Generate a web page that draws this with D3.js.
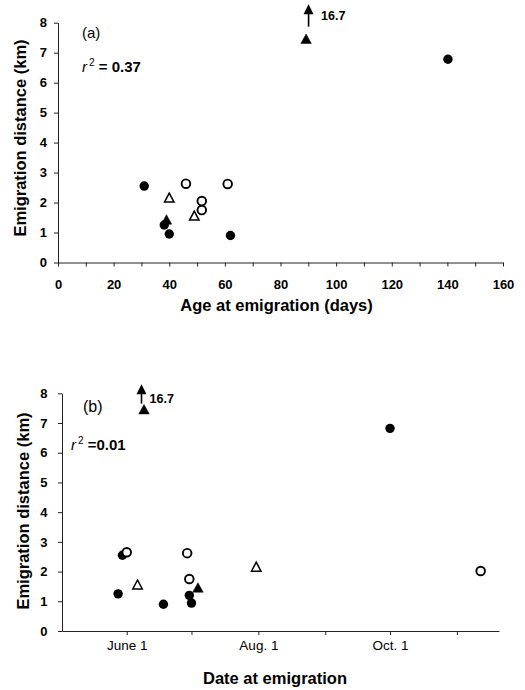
<!DOCTYPE html>
<html>
<head>
<meta charset="utf-8">
<script src="https://cdn.jsdelivr.net/npm/d3@7"></script>
<style>
  html, body { margin: 0; padding: 0; background: #fff; }
  svg { display: block; }
  text { font-family: "Liberation Sans", Arial, sans-serif; fill: #000; }
</style>
</head>
<body>
<svg id="chart" width="525" height="690"></svg>
<script>
// ---------- data ----------
// Panel (a): age at emigration (days) vs emigration distance (km)
const ageDays  = [31, 46, 61, 40, 51.7, 51.7, 49, 39, 38.2, 40, 62, 89.2, 140.2];
const ageDist  = [2.55, 2.63, 2.62, 2.15, 2.05, 1.75, 1.55, 1.42, 1.25, 0.95, 0.9, 7.45, 6.78];
const ageType  = ["fc","oc","oc","ot","oc","oc","ot","ft","fc","fc","fc","ft","fc"];

// Panel (b): date at emigration vs emigration distance (km)
const emDate   = ["2001-05-28","2001-05-30","2001-06-01","2001-06-06","2001-06-18","2001-06-29",
                  "2001-06-30","2001-06-30","2001-07-01","2001-07-04","2001-07-31","2001-10-01",
                  "2001-11-12","2001-06-09"];
const dateDist = [1.25, 2.55, 2.65, 1.55, 0.9, 2.62, 1.75, 1.2, 0.94, 1.45, 2.15, 6.82, 2.02, 7.45];
const dateType = ["fc","fc","oc","ot","fc","oc","oc","fc","fc","ft","ot","fc","oc","ft"];

// truncated (off-scale) value
const offScaleLabel = "16.7";

// axes
const yTicks = [0,1,2,3,4,5,6,7,8];
const ageTicks = d3.range(0, 161, 10);
const ageLabels = [0,20,40,60,80,100,120,140,160];
const dateTickStr = ["2001-06-01","2001-07-01","2001-08-01","2001-09-01","2001-10-01","2001-11-01"];
const dateLabelMap = {"2001-06-01":"June 1","2001-08-01":"Aug. 1","2001-10-01":"Oct. 1"};

const r2a = "0.37", r2b = "0.01";

// ---------- drawing ----------
const svg = d3.select("#chart");
const parse = d3.timeParse("%Y-%m-%d");
const fmt = d3.timeFormat("%Y-%m-%d");

function marker(g, type, cx, cy) {
  if (type === "fc" || type === "oc") {
    g.append("circle").attr("cx", cx).attr("cy", cy)
      .attr("r", type === "fc" ? 4.7 : 4.3)
      .attr("fill", type === "fc" ? "#000" : "#fff")
      .attr("stroke", "#000").attr("stroke-width", type === "fc" ? 0 : 1.9);
  } else {
    const w = type === "ft" ? 10.5 : 9.5, h = type === "ft" ? 9.5 : 9;
    g.append("path")
      .attr("d", `M${cx},${cy - h*0.55} L${cx + w/2},${cy + h*0.45} L${cx - w/2},${cy + h*0.45} Z`)
      .attr("fill", type === "ft" ? "#000" : "#fff")
      .attr("stroke", "#000").attr("stroke-width", type === "ft" ? 0.5 : 1.5)
      .attr("stroke-linejoin", "miter");
  }
}

function styleAxis(g) {
  g.selectAll("path.domain").attr("stroke", "#222").attr("stroke-width", 1);
  g.selectAll(".tick line").attr("stroke", "#222").attr("stroke-width", 1);
}

function yAxis(y, xPos, pad) {
  const g = svg.append("g").attr("transform", `translate(${xPos},0)`)
    .call(d3.axisLeft(y).tickValues(yTicks).tickFormat(d3.format("d"))
      .tickSize(4).tickSizeOuter(0).tickPadding(pad));
  g.selectAll("text").attr("font-size", 13).attr("font-weight", "bold")
    .attr("font-family", '"Liberation Sans", Arial, sans-serif');
  styleAxis(g);
  return g;
}

function arrowUp(x, yTip, yBottom) {
  svg.append("line").attr("x1", x).attr("x2", x).attr("y1", yTip + 8).attr("y2", yBottom)
    .attr("stroke", "#000").attr("stroke-width", 1.6);
  svg.append("path")
    .attr("d", `M${x},${yTip} L${x + 5},${yTip + 10} L${x - 5},${yTip + 10} Z`)
    .attr("fill", "#000");
}

function r2Label(x, yb, val, sep) {
  const t = svg.append("text").attr("x", x).attr("y", yb)
    .attr("font-size", 15).attr("font-weight", "bold");
  t.append("tspan").attr("font-style", "italic").attr("font-weight", "normal").text("r");
  t.append("tspan").attr("font-size", 10).attr("dy", -6).attr("dx", 2).attr("font-weight", "normal").text("2");
  t.append("tspan").attr("dy", 6).text(sep + val);
}

// ===== Panel (a) =====
{
  const x = d3.scaleLinear().domain([0, 160]).range([58, 503]);
  const y = d3.scaleLinear().domain([0, 8]).range([262.5, 22.7]);

  yAxis(y, 58, 7);

  const gx = svg.append("g").attr("transform", `translate(0,${y(0)})`)
    .call(d3.axisBottom(x).tickValues(ageTicks)
      .tickFormat(d => ageLabels.includes(d) ? d : "")
      .tickSize(4).tickSizeOuter(0).tickPadding(13.5));
  gx.selectAll("text").attr("font-size", 13).attr("font-weight", "bold")
    .attr("font-family", '"Liberation Sans", Arial, sans-serif');
  styleAxis(gx);

  const gm = svg.append("g");
  ageDays.forEach((d, i) => marker(gm, ageType[i], x(d), y(ageDist[i])));

  // off-scale annotation
  const iTop = ageDist.indexOf(d3.max(ageDist));
  const tx = x(ageDays[iTop]), ty = y(ageDist[iTop]);
  arrowUp(tx + 2.5, ty - 35, ty - 12.5);
  svg.append("text").attr("x", tx + 15).attr("y", ty - 19.5)
    .attr("font-size", 12.5).attr("font-weight", "bold").text(offScaleLabel);

  svg.append("text").attr("x", 82).attr("y", 38).attr("font-size", 15).text("(a)");
  r2Label(82, 71.5, r2a, " = ");

  svg.append("text").attr("x", 276.5).attr("y", 311).attr("text-anchor", "middle")
    .attr("font-size", 16.5).attr("font-weight", "bold").text("Age at emigration (days)");
  svg.append("text").attr("transform", "translate(26,138) rotate(-90)").attr("text-anchor", "middle")
    .attr("font-size", 16.5).attr("font-weight", "bold").text("Emigration distance (km)");
}

// ===== Panel (b) =====
{
  const x = d3.scaleTime()
    .domain([parse("2001-05-02"), new Date(2001, 10, 20, 12)])
    .range([62, 499]);
  const y = d3.scaleLinear().domain([0, 8]).range([631, 393.3]);

  yAxis(y, 62, 10.5);

  const gx = svg.append("g").attr("transform", `translate(0,${y(0)})`)
    .call(d3.axisBottom(x).tickValues(dateTickStr.map(parse))
      .tickFormat(d => dateLabelMap[fmt(d)] || "")
      .tickSize(4).tickSizeOuter(0).tickPadding(5.5));
  gx.selectAll("text").attr("font-size", 13.5).attr("font-weight", "normal")
    .attr("font-family", '"Liberation Sans", Arial, sans-serif');
  styleAxis(gx);

  const gm = svg.append("g");
  emDate.forEach((d, i) => marker(gm, dateType[i], x(parse(d)), y(dateDist[i])));

  const iTop = dateDist.indexOf(d3.max(dateDist));
  const tx = x(parse(emDate[iTop])), ty = y(dateDist[iTop]);
  arrowUp(tx - 2.5, ty - 25.5, ty - 6);
  svg.append("text").attr("x", tx + 5.5).attr("y", ty - 7)
    .attr("font-size", 12.5).attr("font-weight", "bold").text(offScaleLabel);

  svg.append("text").attr("x", 83).attr("y", 412).attr("font-size", 16).text("(b)");
  r2Label(71, 450, r2b, " =");

  svg.append("text").attr("x", 275).attr("y", 684).attr("text-anchor", "middle")
    .attr("font-size", 16.5).attr("font-weight", "bold").text("Date at emigration");
  svg.append("text").attr("transform", "translate(29,511) rotate(-90)").attr("text-anchor", "middle")
    .attr("font-size", 16.5).attr("font-weight", "bold").text("Emigration distance (km)");
}
</script>
</body>
</html>
